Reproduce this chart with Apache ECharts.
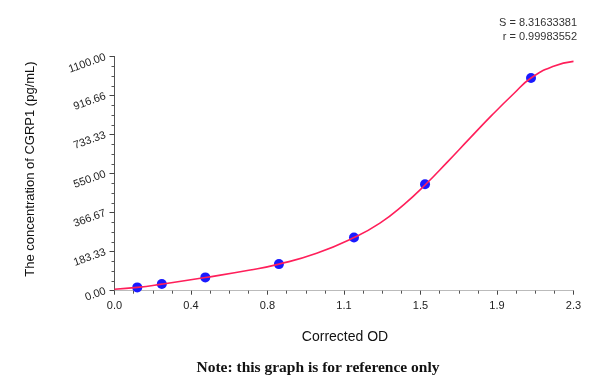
<!DOCTYPE html>
<html>
<head>
<meta charset="utf-8">
<script src="https://cdn.jsdelivr.net/npm/echarts@6/dist/echarts.min.js"></script>
<style>
html,body{margin:0;padding:0;background:#fff;}
#chart{width:600px;height:385px;}
</style>
</head>
<body>
<div id="chart"></div>
<script>
// Standard points (corrected OD, concentration pg/mL)
var pointOD = [0.114, 0.237, 0.455, 0.824, 1.200, 1.556, 2.087];
var pointConc = [15.63, 31.25, 62.5, 125, 250, 500, 1000];

// Fitted curve
var curveOD = [0, 0.114, 0.237, 0.455, 0.68, 0.824, 1.013, 1.2, 1.33, 1.45, 1.556, 1.67, 1.78, 1.89, 2.0, 2.087, 2.2, 2.3];
var curveConc = [7, 15.6, 31, 62, 97, 125, 176, 250, 318, 405, 497, 607, 716, 824, 926, 1000, 1055, 1078];

var xTickLabels = ['0.0', '0.4', '0.8', '1.1', '1.5', '1.9', '2.3'];
var yTickLabels = ['0.00', '183.33', '366.67', '550.00', '733.33', '916.66', '1100.00'];

var statS = 'S = 8.31633381';
var statR = 'r = 0.99983552';
var xTitle = 'Corrected OD';
var yTitle = 'The concentration of CGRP1 (pg/mL)';
var noteText = 'Note: this graph is for reference only';

var xMax = 2.3, yMax = 1100;
var xInt = xMax / 6, yInt = yMax / 6;

var pts = pointOD.map(function (x, i) { return [x, pointConc[i]]; });
var curve = curveOD.map(function (x, i) { return [x, curveConc[i]]; });

var chart = echarts.init(document.getElementById('chart'), null, {renderer: 'canvas'});
var font = "'Liberation Sans', Arial, sans-serif";
chart.setOption({
  animation: false,
  backgroundColor: '#fff',
  grid: {left: 114.5, right: 26.5, top: 56.7, bottom: 94.3, containLabel: false},
  graphic: [
    {type: 'text', x: 577, y: 23, style: {text: statS, font: '11px ' + font, fill: '#333', textAlign: 'right', textVerticalAlign: 'middle'}},
    {type: 'text', x: 577, y: 37, style: {text: statR, font: '11px ' + font, fill: '#333', textAlign: 'right', textVerticalAlign: 'middle'}},
    {type: 'text', x: 345, y: 337, style: {text: xTitle, font: '14px ' + font, fill: '#111', textAlign: 'center', textVerticalAlign: 'middle'}},
    {type: 'text', x: 318, y: 368, style: {text: noteText, font: 'bold 15.5px "Liberation Serif", "Times New Roman", serif', fill: '#111', textAlign: 'center', textVerticalAlign: 'middle'}},
    {type: 'text', x: 30, y: 169, rotation: Math.PI / 2, style: {text: yTitle, font: '13px ' + font, fill: '#111', textAlign: 'center', textVerticalAlign: 'middle'}}
  ],
  xAxis: [{
    type: 'value', min: 0, max: xMax, interval: xInt,
    axisLine: {show: true, lineStyle: {color: '#444', width: 1}},
    axisTick: {show: true, length: 4, lineStyle: {color: '#444'}},
    minorTick: {show: true, splitNumber: 4, length: 3, lineStyle: {color: '#555'}},
    splitLine: {show: false},
    axisLabel: {margin: 10, color: '#222', fontSize: 11, fontFamily: font,
      formatter: function (v) { return xTickLabels[Math.round(v / xInt)]; }}
  }, {
    type: 'value', position: 'top', min: 0, max: xMax,
    axisLine: {show: true, lineStyle: {color: '#bbb', width: 1}},
    axisTick: {show: false}, axisLabel: {show: false}, splitLine: {show: false}
  }],
  yAxis: [{
    type: 'value', min: 0, max: yMax, interval: yInt,
    axisLine: {show: true, lineStyle: {color: '#444', width: 1}},
    axisTick: {show: true, length: 5, lineStyle: {color: '#444'}},
    minorTick: {show: true, splitNumber: 4, length: 3, lineStyle: {color: '#555'}},
    splitLine: {show: false},
    axisLabel: {margin: 9, rotate: 20, color: '#222', fontSize: 11, fontFamily: font,
      formatter: function (v) { return yTickLabels[Math.round(v / yInt)]; }}
  }, {
    type: 'value', position: 'right', min: 0, max: yMax,
    axisLine: {show: true, lineStyle: {color: '#555', width: 1}},
    axisTick: {show: false}, axisLabel: {show: false}, splitLine: {show: false}
  }],
  series: [{
    type: 'scatter', data: pts, symbol: 'circle', symbolSize: 10, z: 2,
    itemStyle: {color: '#1a1aff', opacity: 1}
  }, {
    type: 'line', data: curve, smooth: true, showSymbol: false, z: 3,
    lineStyle: {color: '#ff1f5a', width: 1.6}
  }]
});
</script>
</body>
</html>
